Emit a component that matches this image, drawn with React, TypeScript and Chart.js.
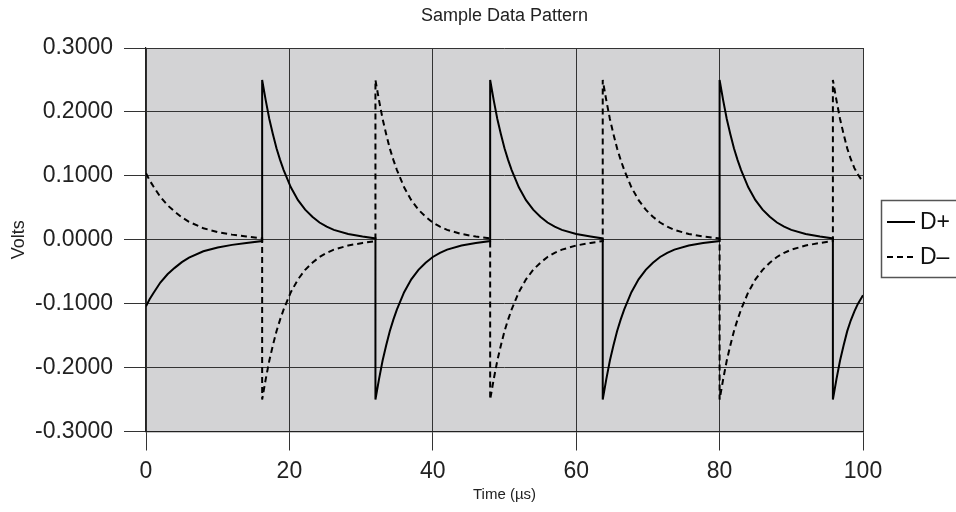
import React, { useEffect, useRef } from "react";
import { Chart, registerables } from "chart.js";

Chart.register(...registerables);

const chartTitle = "Sample Data Pattern";
const xAxisTitle = "Time (µs)";
const yAxisTitle = "Volts";
const seriesLabels = ["D+", "D–"];
const yTickLabels = ["-0.3000", "-0.2000", "-0.1000", "0.0000", "0.1000", "0.2000", "0.3000"];

const timePoints = [
  0, 0.5, 1, 2, 3, 4, 5, 6, 8, 10, 12, 14, 16.2,
  16.2, 16.7, 17.2, 17.7, 18.2, 18.7, 19.2, 20.2, 21.2, 22.2, 23.2, 24.2, 25.2, 26.2, 28.2, 30.2, 32.0,
  32.0, 32.5, 33, 33.5, 34, 34.5, 35, 36, 37, 38, 39, 40, 41, 42, 44, 46, 48,
  48, 48.5, 49, 49.5, 50, 50.5, 51, 52, 53, 54, 55, 56, 57, 58, 60, 62, 63.7,
  63.7, 64.2, 64.7, 65.2, 65.7, 66.2, 66.7, 67.7, 68.7, 69.7, 70.7, 71.7, 72.7, 73.7, 75.7, 77.7, 80.0,
  80.0, 80.5, 81, 81.5, 82, 82.5, 83, 84, 85, 86, 87, 88, 89, 90, 92, 94, 95.8,
  95.8, 96.3, 96.8, 97.3, 97.8, 98.3, 98.8, 99.3, 100,
];

const dPlus = [
  -0.104, -0.093, -0.084, -0.067, -0.054, -0.044, -0.035, -0.028, -0.018, -0.012, -0.008, -0.005, -0.002,
  0.25, 0.218, 0.189, 0.165, 0.143, 0.125, 0.109, 0.082, 0.062, 0.047, 0.036, 0.027, 0.0205, 0.0155, 0.009, 0.005, 0.002,
  -0.25, -0.218, -0.189, -0.165, -0.143, -0.125, -0.109, -0.082, -0.062, -0.047, -0.036, -0.027, -0.0205, -0.0155, -0.009, -0.005, -0.002,
  0.25, 0.218, 0.189, 0.165, 0.143, 0.125, 0.109, 0.082, 0.062, 0.047, 0.036, 0.027, 0.0205, 0.0155, 0.009, 0.005, 0.002,
  -0.25, -0.218, -0.189, -0.165, -0.143, -0.125, -0.109, -0.082, -0.062, -0.047, -0.036, -0.027, -0.0205, -0.0155, -0.009, -0.005, -0.002,
  0.25, 0.218, 0.189, 0.165, 0.143, 0.125, 0.109, 0.082, 0.062, 0.047, 0.036, 0.027, 0.0205, 0.0155, 0.009, 0.005, 0.002,
  -0.25, -0.218, -0.189, -0.165, -0.143, -0.126, -0.112, -0.100, -0.087,
];

const dMinus = [
  0.104, 0.093, 0.084, 0.067, 0.054, 0.044, 0.035, 0.028, 0.018, 0.012, 0.008, 0.005, 0.002,
  -0.25, -0.218, -0.189, -0.165, -0.143, -0.125, -0.109, -0.082, -0.062, -0.047, -0.036, -0.027, -0.0205, -0.0155, -0.009, -0.005, -0.002,
  0.25, 0.218, 0.189, 0.165, 0.143, 0.125, 0.109, 0.082, 0.062, 0.047, 0.036, 0.027, 0.0205, 0.0155, 0.009, 0.005, 0.002,
  -0.25, -0.218, -0.189, -0.165, -0.143, -0.125, -0.109, -0.082, -0.062, -0.047, -0.036, -0.027, -0.0205, -0.0155, -0.009, -0.005, -0.002,
  0.25, 0.218, 0.189, 0.165, 0.143, 0.125, 0.109, 0.082, 0.062, 0.047, 0.036, 0.027, 0.0205, 0.0155, 0.009, 0.005, 0.002,
  -0.25, -0.218, -0.189, -0.165, -0.143, -0.125, -0.109, -0.082, -0.062, -0.047, -0.036, -0.027, -0.0205, -0.0155, -0.009, -0.005, -0.002,
  0.25, 0.218, 0.189, 0.165, 0.143, 0.126, 0.112, 0.102, 0.090,
];

const FONT = "'Liberation Sans', Arial, Helvetica, sans-serif";
const TEXT = "#222";

const decorPlugin = {
  id: "decor",
  beforeDraw(chart: any) {
    const { ctx, chartArea } = chart;
    ctx.save();
    ctx.fillStyle = "#ffffff";
    ctx.fillRect(0, 0, chart.width, chart.height);
    ctx.fillStyle = "#d3d3d5";
    ctx.fillRect(chartArea.left, chartArea.top, chartArea.right - chartArea.left, chartArea.bottom - chartArea.top);
    ctx.restore();
  },
  afterDraw(chart: any) {
    const { ctx, chartArea } = chart;
    ctx.save();
    ctx.fillStyle = TEXT;
    ctx.font = `18px ${FONT}`;
    ctx.textAlign = "center";
    ctx.textBaseline = "middle";
    ctx.fillText(chartTitle, (chartArea.left + chartArea.right) / 2, 16);
    const bx = 881.5, by = 200.5, bw = 100, bh = 77;
    ctx.strokeStyle = "#555";
    ctx.lineWidth = 1.5;
    ctx.strokeRect(bx, by, bw, bh);
    const rows = [222, 257];
    chart.data.datasets.forEach((ds: any, i: number) => {
      const y = rows[i];
      ctx.beginPath();
      ctx.strokeStyle = "#000";
      ctx.lineWidth = 2;
      ctx.setLineDash(ds.borderDash || []);
      ctx.moveTo(887, y);
      ctx.lineTo(915, y);
      ctx.stroke();
      ctx.setLineDash([]);
      ctx.fillStyle = "#111";
      ctx.font = `23px ${FONT}`;
      ctx.textAlign = "left";
      ctx.textBaseline = "middle";
      ctx.fillText(ds.label, 920, y + 1);
    });
    ctx.restore();
  },
};

export default function App() {
  const canvasRef = useRef<HTMLCanvasElement | null>(null);

  useEffect(() => {
    const canvas = canvasRef.current;
    if (!canvas) return;
    Chart.defaults.font.family = FONT;
    const chart = new Chart(canvas, {
      type: "scatter",
      data: {
        datasets: [
          {
            label: seriesLabels[0],
            data: timePoints.map((t, i) => ({ x: t, y: dPlus[i] })),
            showLine: true,
            borderColor: "#000",
            backgroundColor: "#000",
            borderWidth: 2,
            pointRadius: 0,
            tension: 0,
          },
          {
            label: seriesLabels[1],
            data: timePoints.map((t, i) => ({ x: t, y: dMinus[i] })),
            showLine: true,
            borderColor: "#000",
            backgroundColor: "#000",
            borderWidth: 2,
            borderDash: [6, 4],
            pointRadius: 0,
            tension: 0,
          },
        ],
      },
      options: {
        animation: false,
        responsive: false,
        maintainAspectRatio: false,
        layout: { padding: { top: 48, right: 93, left: 0, bottom: 0 } },
        plugins: {
          legend: { display: false },
          title: { display: false },
          tooltip: { enabled: false },
        },
        scales: {
          x: {
            type: "linear",
            min: 0,
            max: 100,
            ticks: { stepSize: 20, color: TEXT, font: { size: 23 }, padding: 7, maxRotation: 0 },
            grid: { color: "#333", lineWidth: 1, tickLength: 19, tickColor: "#333" },
            border: { color: "#222", width: 1.2 },
            title: { display: true, text: xAxisTitle, color: TEXT, font: { size: 15 }, padding: { top: 0, bottom: 8 } },
            afterFit: (s: any) => { s.height = 80.5; },
          },
          y: {
            type: "linear",
            min: -0.3,
            max: 0.3,
            ticks: {
              stepSize: 0.1,
              color: TEXT,
              font: { size: 23 },
              padding: 11,
              callback: (v: any) => yTickLabels[Math.round(Number(v) * 10) + 3],
            },
            grid: { color: "#333", lineWidth: 1, tickLength: 22, tickColor: "#333" },
            border: { color: "#222", width: 1.2 },
            title: { display: true, text: yAxisTitle, color: TEXT, font: { size: 18 }, padding: { top: 8, bottom: 8 } },
            afterFit: (s: any) => { s.width = 146; },
          },
        },
      },
      plugins: [decorPlugin],
    } as any);
    return () => chart.destroy();
  }, []);

  return (
    <div style={{ position: "fixed", left: 0, top: 0, width: 956, height: 512, background: "#fff" }}>
      <canvas ref={canvasRef} width={956} height={512} style={{ width: 956, height: 512, display: "block" }} />
    </div>
  );
}
